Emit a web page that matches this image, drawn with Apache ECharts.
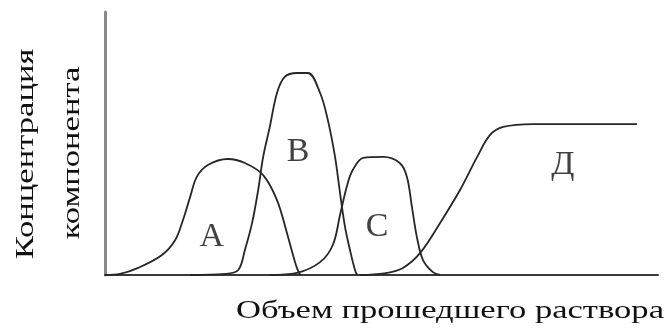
<!DOCTYPE html>
<html>
<head>
<meta charset="utf-8">
<script src="https://cdn.jsdelivr.net/npm/echarts@6/dist/echarts.min.js"></script>
<style>
  html, body { margin: 0; padding: 0; background: #fff; }
  #chart { width: 665px; height: 336px; }
</style>
</head>
<body>
<div id="chart"></div>
<script>
// Elution curves: [volume, concentration] pairs for each component
const curveA = [[0,0],[2.7,0.4],[6.0,2.7],[10.3,7.6],[12.7,13.3],[14.1,20.9],[15.4,29.7],[16.6,37.3],[18.6,41.8],[22.2,44.1],[25.3,42.6],[28.6,38.0],[31.1,28.5],[32.9,16.0],[34.0,7.6],[34.7,2.7],[35.3,0]];
const curveB = [[15.4,0],[21.7,0.4],[24.1,1.9],[25.3,9.5],[26.6,19.8],[27.7,32.3],[28.6,44.9],[29.8,56.3],[31.1,69.2],[32.5,75.3],[34.7,76.8],[36.7,76.8],[38.9,69.2],[40.3,58.9],[41.6,44.9],[42.5,31.2],[43.4,18.3],[44.3,9.5],[45.2,1.9],[45.6,0]];
const curveC = [[29.8,0],[34.7,0.8],[38.9,4.9],[41.2,11.4],[42.5,22.8],[43.8,34.2],[44.8,39.9],[46.7,44.5],[50.3,44.9],[53.3,42.6],[54.6,37.3],[55.5,25.9],[56.4,14.4],[57.5,5.7],[59.3,1.1],[60.6,0]];
const curveD = [[46.1,0],[50.5,0.6],[53.8,2.6],[57.0,8.4],[60.6,19.8],[64.2,32.3],[67.3,44.9],[69.6,53.2],[72.0,56.3],[77.4,57.4],[85.9,57.4],[96.2,57.4]];

// Component names and where each is written inside its peak
const componentNames = ['А', 'В', 'С', 'Д'];
const namePositions = [[19.3, 14.4], [34.9, 46.8], [49.2, 18.3], [82.8, 41.8]];

const xTitle = 'Объем прошедшего раствора';
const yTitleLines = ['Концентрация', 'компонента'];

const chart = echarts.init(document.getElementById('chart'));
const serif = '"Liberation Serif", "Times New Roman", serif';
const ink = '#262626';
const textInk = '#111';

function curve(data) {
  return {
    type: 'line', data: data, smooth: 0.35, symbol: 'none',
    lineStyle: { color: ink, width: 1.8 }, silent: true
  };
}

function title(text, x, y, rotation) {
  return {
    type: 'text', x: x, y: y, rotation: rotation, scaleX: 1.33,
    style: { text: text, font: '26px ' + serif, fill: textInk, textAlign: 'center', textVerticalAlign: 'middle' }
  };
}

chart.setOption({
  animation: false,
  backgroundColor: '#fff',
  grid: { left: 105, right: 7, top: 12, bottom: 61 },
  xAxis: {
    type: 'value', min: 0, max: 100,
    axisLine: { show: true, onZero: false, lineStyle: { color: '#3a3a3a', width: 2 } },
    axisTick: { show: false }, axisLabel: { show: false }, splitLine: { show: false }
  },
  yAxis: {
    type: 'value', min: 0, max: 100,
    axisLine: { show: true, lineStyle: { color: '#8a8a8a', width: 3 } },
    axisTick: { show: false }, axisLabel: { show: false }, splitLine: { show: false }
  },
  series: [
    curve(curveA), curve(curveB), curve(curveC), curve(curveD),
    {
      type: 'scatter', symbolSize: 0, silent: true,
      data: componentNames.map((n, i) => ({ name: n, value: namePositions[i] })),
      label: {
        show: true, position: 'inside', formatter: '{b}',
        fontFamily: serif, fontSize: 34, color: textInk
      }
    }
  ],
  graphic: [
    title(xTitle, 450, 311, 0),
    title(yTitleLines[0], 26, 154, Math.PI / 2),
    title(yTitleLines[1], 72, 153, Math.PI / 2)
  ]
});
</script>
</body>
</html>
